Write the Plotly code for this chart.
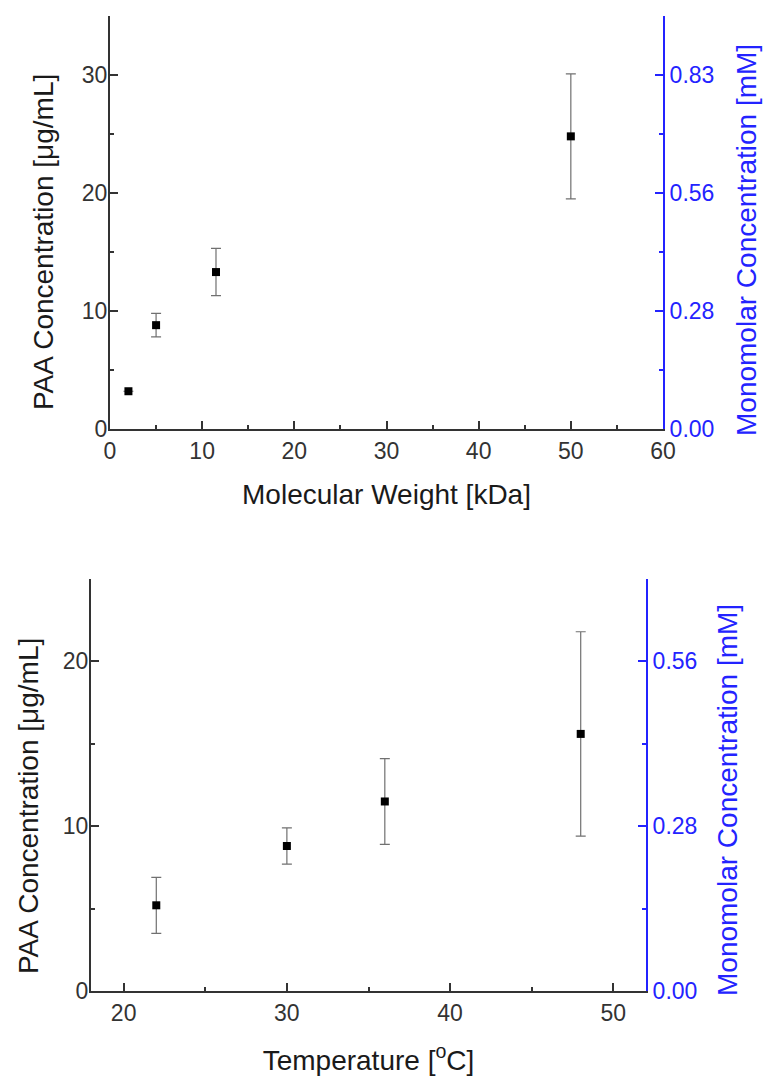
import plotly.graph_objects as go

# ---- data ----
mw_kda = [2, 5, 11.5, 50]
mw_conc = [3.2, 8.8, 13.3, 24.8]
mw_err = [0.0, 1.0, 2.0, 5.3]

temp_c = [22, 30, 36, 48]
temp_conc = [5.2, 8.8, 11.5, 15.6]
temp_err = [1.7, 1.1, 2.6, 6.2]

# conversion factor ug/mL -> mM (0.83 mM at 30 ug/mL)
UG_PER_MM = 36.0

LEFT_TITLE = "PAA Concentration [\u03bcg/mL]"
RIGHT_TITLE = "Monomolar Concentration [mM]"
TOP_XTITLE = "Molecular Weight [kDa]"
BOT_XTITLE = "Temperature [<sup>o</sup>C]"

W, H = 763, 1078
BLUE = "#2323ff"
DARK = "#333333"
FONT = "Liberation Sans, Arial, sans-serif"

fig = go.Figure()

def add_panel(x, y, err, xa, ya, ya2):
    fig.add_trace(go.Scatter(
        x=x, y=y, mode="markers", xaxis=xa, yaxis=ya,
        marker=dict(symbol="square", size=8, color="black"),
        error_y=dict(type="data", array=err, visible=True,
                     color="#707070", thickness=1.2, width=5),
        showlegend=False, hoverinfo="x+y"))
    fig.add_trace(go.Scatter(
        x=x, y=[v / UG_PER_MM for v in y], mode="markers",
        xaxis=xa, yaxis=ya2, marker=dict(opacity=0),
        showlegend=False, hoverinfo="skip"))

add_panel(mw_kda, mw_conc, mw_err, "x", "y", "y2")
add_panel(temp_c, temp_conc, temp_err, "x2", "y3", "y4")

def px_dom_x(a, b):
    return [a / W, b / W]

def px_dom_y(top, bottom):
    return [1 - bottom / H, 1 - top / H]

tickfont = dict(family=FONT, size=23, color=DARK)
titlefont = dict(family=FONT, size=28, color="#1a1a1a")
bluetick = dict(family=FONT, size=23, color=BLUE)
bluetitle = dict(family=FONT, size=28, color=BLUE)

def xaxis(dom, rng, dtick, title, anchor, standoff):
    return dict(domain=dom, range=rng, dtick=dtick, tick0=0, anchor=anchor,
                showline=True, linecolor=DARK, linewidth=2, mirror=False,
                ticks="inside", ticklen=8, tickwidth=1.5, tickcolor=DARK,
                minor=dict(dtick=dtick / 2, ticks="inside", ticklen=4,
                           tickwidth=1.5, tickcolor=DARK),
                showgrid=False, zeroline=False, tickfont=tickfont,
                title=dict(text=title, font=titlefont, standoff=standoff),
                automargin=False)

def yaxis_left(dom, rng, anchor):
    return dict(domain=dom, range=rng, dtick=10, tick0=0, anchor=anchor,
                showline=True, linecolor=DARK, linewidth=2, mirror=False,
                ticks="inside", ticklen=8, tickwidth=1.5, tickcolor=DARK,
                minor=dict(dtick=5, ticks="inside", ticklen=4,
                           tickwidth=1.5, tickcolor=DARK),
                ticklabelstandoff=-4,
                showgrid=False, zeroline=False, tickfont=tickfont,
                automargin=False)

def yaxis_right(rng, overlay, anchor):
    return dict(range=[rng[0] / UG_PER_MM, rng[1] / UG_PER_MM],
                tick0=0, dtick=10 / UG_PER_MM, tickformat=".2f",
                overlaying=overlay, anchor=anchor, side="right",
                showline=True, linecolor=BLUE, linewidth=2,
                ticks="inside", ticklen=8, tickwidth=1.5, tickcolor=BLUE,
                minor=dict(dtick=5 / UG_PER_MM, ticks="inside", ticklen=4,
                           tickwidth=1.5, tickcolor=BLUE),
                showgrid=False, zeroline=False, tickfont=bluetick,
                automargin=False)

top_x = px_dom_x(110, 663)
top_y = px_dom_y(16, 429)
bot_x = px_dom_x(91, 646)
bot_y = px_dom_y(579, 991)

def ytitle(text, xpx, ypx, font):
    return dict(text=text, xref="paper", yref="paper", x=xpx / W, y=1 - ypx / H,
                xanchor="center", yanchor="middle", textangle=-90,
                showarrow=False, font=font)

fig.update_layout(
    width=W, height=H,
    margin=dict(l=0, r=0, t=0, b=0),
    paper_bgcolor="white", plot_bgcolor="white",
    font=dict(family=FONT),
    xaxis=xaxis(top_x, [0, 60], 10, TOP_XTITLE, "y", 22),
    yaxis=yaxis_left(top_y, [0, 35], "x"),
    yaxis2=yaxis_right([0, 35], "y", "x"),
    xaxis2=xaxis(bot_x, [18, 52], 10, BOT_XTITLE, "y3", 26),
    yaxis3=yaxis_left(bot_y, [0, 25], "x2"),
    yaxis4=yaxis_right([0, 25], "y3", "x2"),
    annotations=[
        ytitle(LEFT_TITLE, 43, 242, titlefont),
        ytitle(RIGHT_TITLE, 746, 240, bluetitle),
        ytitle(LEFT_TITLE, 28, 806, titlefont),
        ytitle(RIGHT_TITLE, 728, 800, bluetitle),
    ],
)

fig.write_html("out.html")
